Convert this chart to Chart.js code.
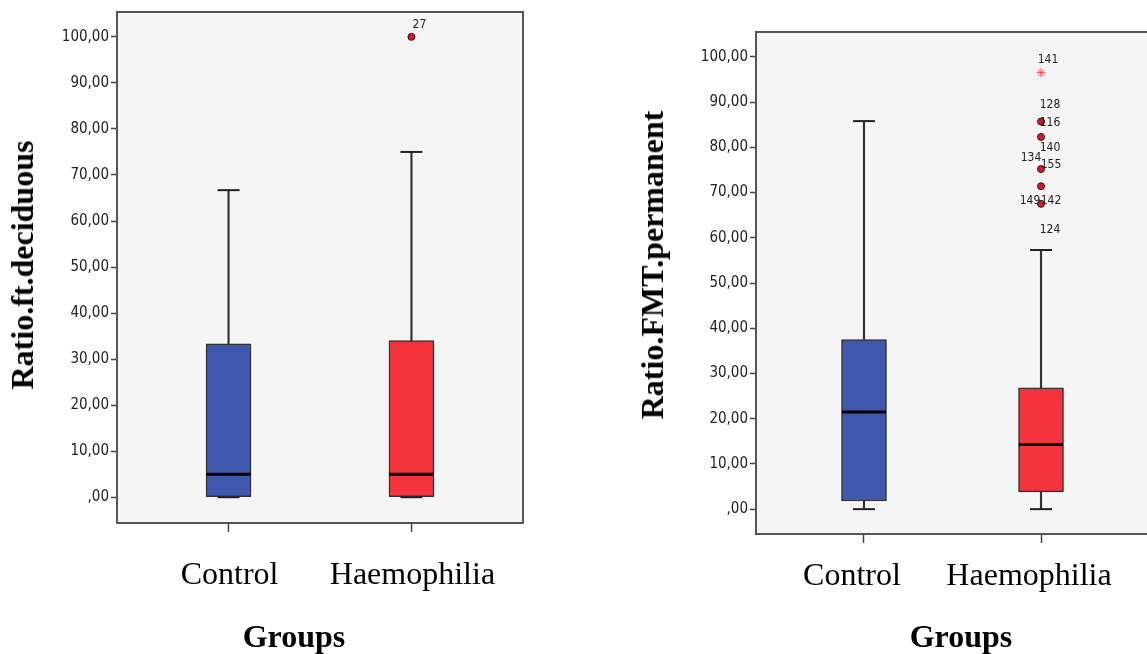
<!DOCTYPE html>
<html>
<head>
<meta charset="utf-8">
<script src="https://cdn.jsdelivr.net/npm/chart.js@4"></script>
<style>
  html, body { margin: 0; padding: 0; background: #fff; overflow: hidden; }
  body { width: 1147px; height: 654px; position: relative; }
  canvas { position: absolute; top: 0; }
  #chartLeft { left: 0; }
  #chartRight { left: 620px; }
  .title { position: absolute; font-family: "Liberation Serif", "Times New Roman", serif; font-weight: bold;
           font-size: 32px; line-height: 32px; white-space: nowrap; color: #000; }
  .ytitle { transform: translate(-50%, -50%) rotate(-90deg); }
  .xtitle { transform: translateX(-50%); }
</style>
</head>
<body>
<canvas id="chartLeft" width="560" height="654"></canvas>
<canvas id="chartRight" width="540" height="654"></canvas>
<div class="title ytitle" style="left:22px; top:265px;">Ratio.ft.deciduous</div>
<div class="title ytitle" style="left:652px; top:265px;">Ratio.FMT.permanent</div>
<div class="title xtitle" style="left:294px; top:620px;">Groups</div>
<div class="title xtitle" style="left:961px; top:620px;">Groups</div>
<script>
// Categories and tick values
const groups = ["Control", "Haemophilia"];
const yTicks = [0, 10, 20, 30, 40, 50, 60, 70, 80, 90, 100];

// Ratio.ft.deciduous
const ftMin = [0, 0];
const ftQ1 = [0, 0];
const ftMedian = [5, 5];
const ftQ3 = [33.3, 34];
const ftMax = [66.7, 75];
const ftOutlierGroup = [1];
const ftOutlierValue = [100];
const ftLabelId = ["27"];
const ftLabelGroup = [1];
const ftLabelValue = [100];

// Ratio.FMT.permanent
const fmtMin = [0, 0];
const fmtQ1 = [1.8, 3.8];
const fmtMedian = [21.5, 14.3];
const fmtQ3 = [37.5, 26.8];
const fmtMax = [85.8, 57.3];
const fmtOutlierGroup = [1, 1, 1, 1, 1];
const fmtOutlierValue = [85.7, 82.3, 75.2, 71.4, 67.5];
const fmtExtremeGroup = [1];
const fmtExtremeValue = [96.5];
const fmtLabelId = ["141", "128", "116", "140", "134", "155", "149", "142", "124"];
const fmtLabelGroup = [1, 1, 1, 1, 1, 1, 1, 1, 1];
const fmtLabelValue = [96.5, 85.7, 85.7, 82.3, 75.2, 75.2, 67.5, 67.5, 67.5];

// label placement next to the points (pixels)
const ftLabelOffset = [[8, -12]];
const fmtLabelOffset = [[7, -13], [9, -17], [9, 1], [9, 11], [-10, -11], [10, -4], [-11, -3], [10, -3], [9, 26]];

const boxColors = ["#3F57AD", "#F4333D"];
const tickFont = "'DejaVu Sans Condensed', 'Liberation Sans Narrow', 'Arial Narrow', sans-serif";

function fmtTick(v) {
    return v === 0 ? ",00" : v.toFixed(2).replace(".", ",");
}

// plot background and frame
const framePlugin = {
    id: "frame",
    beforeDraw(chart) {
        const { ctx, chartArea: a } = chart;
        ctx.save();
        ctx.fillStyle = "#F5F5F5";
        ctx.fillRect(a.left, a.top, a.width, a.height);
        ctx.restore();
    },
    afterDraw(chart) {
        const { ctx, chartArea: a } = chart;
        ctx.save();
        ctx.strokeStyle = "#555";
        ctx.lineWidth = 2;
        ctx.strokeRect(a.left, a.top, a.width, a.height);
        ctx.restore();
    }
};

// case numbers next to outliers
const idLabels = {
    id: "idLabels",
    afterDatasetsDraw(chart, args, opts) {
        const { ctx } = chart;
        const x = chart.scales.x, y = chart.scales.y;
        ctx.save();
        ctx.font = "12px " + tickFont;
        ctx.fillStyle = "#222";
        ctx.textAlign = "center";
        ctx.textBaseline = "middle";
        opts.ids.forEach((id, i) => {
            const px = x.getPixelForValue(opts.groups[i]) + opts.offsets[i][0];
            const py = y.getPixelForValue(opts.values[i]) + opts.offsets[i][1];
            ctx.fillText(id, px, py);
        });
        ctx.restore();
    }
};

function points(groupIdx, values) {
    return values.map((v, i) => ({ x: groupIdx[i], y: v }));
}

function boxDatasets(min, q1, median, q3, max) {
    const idx = groups.map((g, i) => i);
    return [
        {
            type: "bar", grouped: false, order: 6,
            data: idx.map(i => ({ x: i, y: [q3[i], max[i]] })),
            backgroundColor: "#333", barThickness: 1.5
        },
        {
            type: "bar", grouped: false, order: 6,
            data: idx.map(i => ({ x: i, y: [min[i], q1[i]] })),
            backgroundColor: "#333", barThickness: 1.5
        },
        {
            type: "bar", grouped: false, order: 5,
            data: idx.map(i => ({ x: i, y: [q1[i], q3[i]] })),
            backgroundColor: boxColors, borderColor: "#333", borderWidth: 1.5,
            borderSkipped: false, barThickness: 45
        },
        {
            type: "scatter", order: 4,
            data: points(idx, median),
            pointStyle: "line", radius: 22, borderColor: "#000", borderWidth: 3
        },
        {
            type: "scatter", order: 4,
            data: points(idx, max).concat(points(idx, min)),
            pointStyle: "line", radius: 11, borderColor: "#222", borderWidth: 2
        }
    ];
}

function createChart(canvasId, datasets, labels, yRange, layout) {
    const ctx = document.getElementById(canvasId).getContext("2d");
    new Chart(ctx, {
        type: "bar",
        data: { datasets: datasets },
        plugins: [framePlugin, idLabels],
        options: {
            responsive: false,
            animation: false,
            events: [],
            layout: { padding: layout.padding, autoPadding: false },
            plugins: {
                legend: { display: false },
                tooltip: { enabled: false },
                idLabels: labels
            },
            scales: {
                x: {
                    type: "linear",
                    offset: false,
                    min: -0.61,
                    max: 1.61,
                    afterBuildTicks: s => { s.ticks = groups.map((g, i) => ({ value: i })); },
                    afterFit: s => {
                        s.height = layout.xHeight;
                        s.paddingLeft = 0;
                        s.paddingRight = 0;
                    },
                    ticks: {
                        callback: v => groups[v],
                        font: { family: "'Liberation Serif', 'Times New Roman', serif", size: 32 },
                        color: "#000",
                        padding: layout.xPad,
                        labelOffset: layout.xShift,
                        maxRotation: 0,
                        autoSkip: false
                    },
                    grid: { offset: false, drawOnChartArea: false, drawTicks: true, tickLength: 9, tickColor: "#444", tickWidth: 1.5 },
                    border: { display: false }
                },
                y: {
                    min: yRange[0],
                    max: yRange[1],
                    afterBuildTicks: s => { s.ticks = yTicks.map(v => ({ value: v })); },
                    afterFit: s => {
                        s.width = layout.yWidth;
                        s.paddingTop = 0;
                        s.paddingBottom = 0;
                    },
                    ticks: {
                        callback: v => fmtTick(v),
                        font: { family: tickFont, size: 15 },
                        color: "#222",
                        padding: 2,
                        autoSkip: false
                    },
                    grid: { drawOnChartArea: false, drawTicks: true, tickLength: 6, tickColor: "#444", tickWidth: 1.5 },
                    border: { display: false }
                }
            }
        }
    });
}

// Left chart: Ratio.ft.deciduous
const leftSets = boxDatasets(ftMin, ftQ1, ftMedian, ftQ3, ftMax).concat([
    {
        type: "scatter", order: 1,
        data: points(ftOutlierGroup, ftOutlierValue),
        pointStyle: "circle", radius: 3.5, backgroundColor: "#E3151F", borderColor: "#222", borderWidth: 1
    }
]);
createChart("chartLeft", leftSets,
    { ids: ftLabelId, groups: ftLabelGroup, values: ftLabelValue, offsets: ftLabelOffset },
    [-5.6, 105.4],
    { padding: { top: 12, right: 37, left: 0, bottom: 0 }, yWidth: 117, xHeight: 131, xPad: 24, xShift: 1 });

// Right chart: Ratio.FMT.permanent
const rightSets = boxDatasets(fmtMin, fmtQ1, fmtMedian, fmtQ3, fmtMax).concat([
    {
        type: "scatter", order: 1,
        data: points(fmtOutlierGroup, fmtOutlierValue),
        pointStyle: "circle", radius: 3.5, backgroundColor: "#E3151F", borderColor: "#222", borderWidth: 1
    },
    {
        type: "scatter", order: 1,
        data: points(fmtExtremeGroup, fmtExtremeValue),
        pointStyle: "star", radius: 4.5, borderColor: "#F0444C", borderWidth: 1
    }
]);
createChart("chartRight", rightSets,
    { ids: fmtLabelId, groups: fmtLabelGroup, values: fmtLabelValue, offsets: fmtLabelOffset },
    [-5.5, 105.5],
    { padding: { top: 32, right: 11, left: 0, bottom: 0 }, yWidth: 136, xHeight: 120, xPad: 14, xShift: -12 });
</script>
</body>
</html>
